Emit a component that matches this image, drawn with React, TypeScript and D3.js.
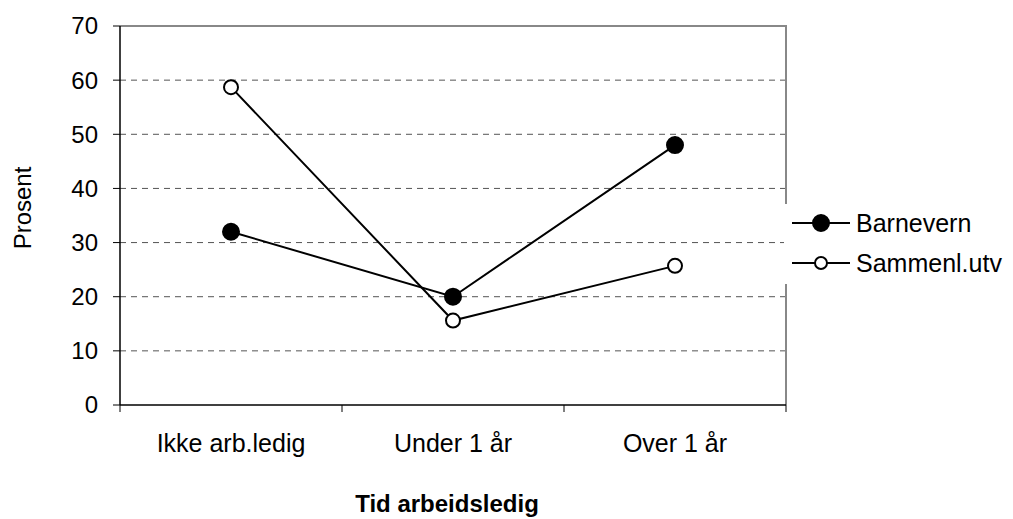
import React, { useEffect, useRef } from 'react';
import * as d3 from 'd3';

const categories = ['Ikke arb.ledig', 'Under 1 år', 'Over 1 år'];
const barnevern = [32, 20, 48];
const sammenl = [58.7, 15.6, 25.7];
const yTicks = [0, 10, 20, 30, 40, 50, 60, 70];
const seriesNames = ['Barnevern', 'Sammenl.utv'];

const W = 1013;
const H = 519;
const margin = { top: 26, left: 120, right: 227, bottom: 114 };

const App: React.FC = () => {
  const svgRef = useRef<SVGSVGElement>(null);

  useEffect(() => {
    if (!svgRef.current) return;
    const svg = d3.select(svgRef.current);
    svg.selectAll('*').remove();

    const innerW = W - margin.left - margin.right;
    const innerH = H - margin.top - margin.bottom;
    const font = 'Liberation Sans, Arial, sans-serif';
    const fs = 24;

    const x = d3.scaleBand().domain(categories).range([0, innerW]);
    const y = d3.scaleLinear().domain([0, 70]).range([innerH, 0]);

    const g = svg.append('g').attr('transform', `translate(${margin.left},${margin.top})`);

    // gridlines
    yTicks.filter(t => t > 0 && t < 70).forEach(t => {
      g.append('line')
        .attr('x1', 0).attr('x2', innerW)
        .attr('y1', y(t)).attr('y2', y(t))
        .attr('stroke', '#555').attr('stroke-width', 1)
        .attr('stroke-dasharray', '6,5');
    });

    // gray plot border (top, right)
    g.append('path')
      .attr('d', `M0,${y(70)}H${innerW}V${innerH}`)
      .attr('fill', 'none').attr('stroke', '#888').attr('stroke-width', 2);

    // axes
    g.append('line').attr('x1', 0).attr('x2', 0).attr('y1', 0).attr('y2', innerH)
      .attr('stroke', '#000').attr('stroke-width', 1.5);
    g.append('line').attr('x1', 0).attr('x2', innerW).attr('y1', innerH).attr('y2', innerH)
      .attr('stroke', '#000').attr('stroke-width', 1.5);

    yTicks.forEach(t => {
      g.append('line').attr('x1', -7).attr('x2', 0).attr('y1', y(t)).attr('y2', y(t))
        .attr('stroke', '#000').attr('stroke-width', 1);
      g.append('text').attr('x', -22).attr('y', y(t)).attr('dy', '0.35em')
        .attr('text-anchor', 'end').attr('font-family', font).attr('font-size', fs)
        .text(t);
    });

    const xTickPos = [...categories.map(c => x(c)!), innerW];
    xTickPos.forEach(p => {
      g.append('line').attr('x1', p).attr('x2', p).attr('y1', innerH).attr('y2', innerH + 7)
        .attr('stroke', '#000').attr('stroke-width', 1);
    });
    categories.forEach(c => {
      g.append('text').attr('x', x(c)! + x.bandwidth() / 2).attr('y', innerH + 47)
        .attr('text-anchor', 'middle').attr('font-family', font).attr('font-size', 25)
        .text(c);
    });

    // series
    const cx = (i: number) => x(categories[i])! + x.bandwidth() / 2;
    const line = d3.line<number>().x((_, i) => cx(i)).y(d => y(d));
    [barnevern, sammenl].forEach((vals, si) => {
      g.append('path').attr('d', line(vals)!).attr('fill', 'none')
        .attr('stroke', '#000').attr('stroke-width', 2);
      vals.forEach((v, i) => {
        g.append('circle').attr('cx', cx(i)).attr('cy', y(v)).attr('r', si === 0 ? 8 : 7)
          .attr('fill', si === 0 ? '#000' : '#fff')
          .attr('stroke', '#000').attr('stroke-width', 2);
      });
    });

    // legend
    const lg = svg.append('g');
    lg.append('rect').attr('x', 784).attr('y', 204).attr('width', 229).attr('height', 80)
      .attr('fill', '#fff');
    seriesNames.forEach((name, i) => {
      const ly = 223 + i * 40;
      lg.append('line').attr('x1', 792).attr('x2', 850).attr('y1', ly).attr('y2', ly)
        .attr('stroke', '#000').attr('stroke-width', 2);
      lg.append('circle').attr('cx', 821).attr('cy', ly).attr('r', i === 0 ? 8 : 6)
        .attr('fill', i === 0 ? '#000' : '#fff').attr('stroke', '#000').attr('stroke-width', 2);
      lg.append('text').attr('x', 856).attr('y', ly).attr('dy', '0.35em')
        .attr('font-family', font).attr('font-size', 25).text(name);
    });

    // axis titles
    svg.append('text')
      .attr('transform', `translate(31,208) rotate(-90)`)
      .attr('text-anchor', 'middle').attr('font-family', font).attr('font-size', fs)
      .text('Prosent');
    svg.append('text')
      .attr('x', 447).attr('y', 512)
      .attr('text-anchor', 'middle').attr('font-family', font).attr('font-size', fs)
      .attr('font-weight', 'bold').text('Tid arbeidsledig');
  }, []);

  return (
    <svg ref={svgRef} width={W} height={H}
      style={{ position: 'absolute', left: 0, top: 0, background: '#fff' }} />
  );
};

export default App;
